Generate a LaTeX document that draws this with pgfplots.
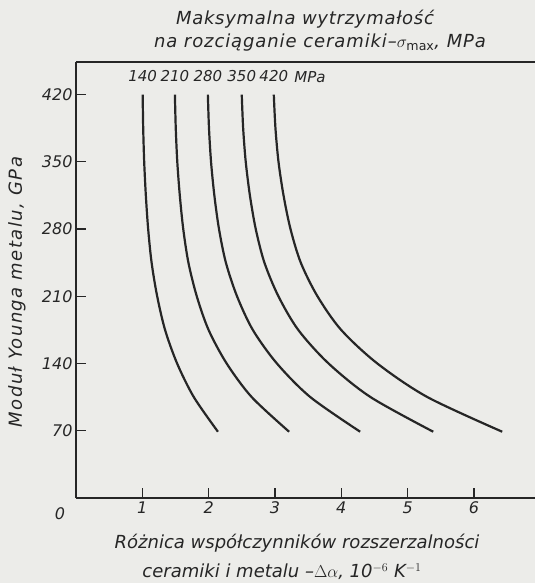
\documentclass[border=0pt]{standalone}
\usepackage{fontspec}
\setmainfont{DejaVu Sans}
\usepackage{pgfplots}
\pgfplotsset{compat=1.18}
\usetikzlibrary{backgrounds}

\definecolor{ink}{RGB}{38,38,38}
\definecolor{paper}{RGB}{236,236,233}

\newcommand{\lab}{\fontsize{16}{18}\selectfont\itshape}
\newcommand{\curvelab}{\fontsize{15}{17}\selectfont\itshape}
\newcommand{\biglab}{\fontsize{18}{20}\selectfont\itshape}

% Delta alpha (10^-6 1/K) vs Young modulus of the metal (GPa),
% one table per ceramic tensile strength
\pgfplotstableread{
E    da
420  1.005
385  1.013
350  1.028
315  1.053
280  1.088
245  1.140
210  1.224
175  1.343
140  1.525
105  1.777
69   2.14
}\sA
\pgfplotstableread{
E    da
420  1.491
385  1.504
350  1.527
315  1.565
280  1.617
245  1.695
210  1.821
175  1.999
140  2.272
105  2.650
69   3.213
}\sB
\pgfplotstableread{
E    da
420  1.988
385  2.005
350  2.036
315  2.086
280  2.156
245  2.260
210  2.428
175  2.666
140  3.030
105  3.534
69   4.284
}\sC
\pgfplotstableread{
E    da
420  2.499
385  2.520
350  2.559
315  2.622
280  2.710
245  2.841
210  3.052
175  3.351
140  3.809
105  4.442
69   5.386
}\sD
\pgfplotstableread{
E    da
420  2.982
385  3.007
350  3.053
315  3.129
280  3.234
245  3.389
210  3.641
175  3.998
140  4.544
105  5.300
69   6.426
}\sE

\begin{document}
\begin{tikzpicture}[x=1pt,y=1pt]
\begin{axis}[
  name=ax,
  scale only axis, width=459pt, height=436pt,
  xmin=0, xmax=6.92, ymin=0, ymax=454,
  axis x line*=bottom, axis y line*=left,
  axis line style={ink, line width=1.6pt, -},
  xtick={1,2,3,4,5,6}, ytick={70,140,210,280,350,420},
  tick align=inside,
  major tick length=10pt,
  tick style={ink, line width=1.2pt},
  ticklabel style={font=\lab, text=ink},
  /pgf/number format/assume math mode=true,
  clip=false,
]
\addplot[ink, line width=2.2pt, smooth] table[x=da, y=E] {\sA}
  node[pos=0, anchor=south, yshift=8pt, font=\curvelab, text=ink] {140};
\addplot[ink, line width=2.2pt, smooth] table[x=da, y=E] {\sB}
  node[pos=0, anchor=south, yshift=8pt, font=\curvelab, text=ink] {210};
\addplot[ink, line width=2.2pt, smooth] table[x=da, y=E] {\sC}
  node[pos=0, anchor=south, yshift=8pt, font=\curvelab, text=ink] {280};
\addplot[ink, line width=2.2pt, smooth] table[x=da, y=E] {\sD}
  node[pos=0, anchor=south, yshift=8pt, font=\curvelab, text=ink] {350};
\addplot[ink, line width=2.2pt, smooth] table[x=da, y=E] {\sE}
  node[pos=0, anchor=south, yshift=8pt, font=\curvelab, text=ink] {420};
\node[anchor=south west, yshift=8pt, xshift=17pt, font=\curvelab, text=ink] at (axis cs:2.982,420) {MPa};
% top frame line
\draw[ink, line width=1.6pt] (rel axis cs:0,1) -- (rel axis cs:1,1);
\end{axis}
% origin label
\node[font=\lab, text=ink, anchor=center] at (-16pt,-16pt) {0};
% titles
\node[font=\biglab, text=ink, anchor=center] at (229pt,479pt)
  {\addfontfeature{LetterSpace=4}Maksymalna wytrzymałość};
\node[font=\biglab, text=ink, anchor=center] at (244pt,455pt)
  {\addfontfeature{LetterSpace=5}na rozciąganie ceramiki–$\sigma_{\mathrm{max}}$, MPa};
\node[font=\biglab, text=ink, anchor=center] at (221pt,-45pt)
  {Różnica współczynników rozszerzalności};
\node[font=\biglab, text=ink, anchor=center] at (206pt,-74pt)
  {ceramiki i metalu –$\Delta\alpha$, 10$^{-6}$ K$^{-1}$};
\node[font=\biglab, text=ink, rotate=90, anchor=center] at (-59pt,206pt)
  {\addfontfeature{LetterSpace=8}Moduł Younga metalu, GPa};
\pgfresetboundingbox
\path[use as bounding box] (-76pt,-85pt) rectangle (459pt,498pt);
\begin{scope}[on background layer]
  \fill[paper] (-76pt,-85pt) rectangle (459pt,498pt);
\end{scope}
\end{tikzpicture}
\end{document}
